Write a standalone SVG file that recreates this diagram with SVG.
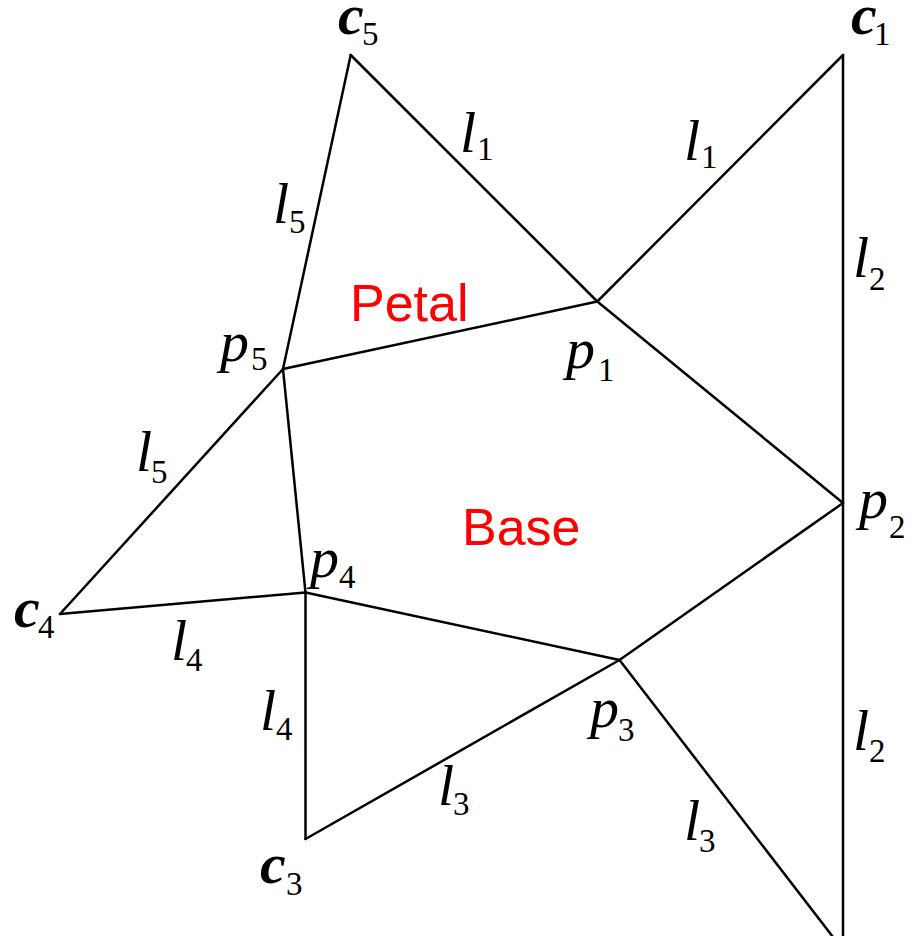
<svg xmlns="http://www.w3.org/2000/svg" width="912" height="936" viewBox="0 0 912 936">
<style>
.e{stroke:#000;stroke-width:2.5;fill:none;stroke-linecap:round}
.m{font-family:"Liberation Serif","Times New Roman",serif;font-style:italic;font-size:58px;fill:#000}
.c{font-weight:bold}
.s{font-style:normal;font-weight:normal;font-size:33px}
.r{font-family:"Liberation Sans",Arial,sans-serif;font-size:52px;fill:#ff0000}
</style>
<rect width="912" height="936" fill="#fff"/>
<g id="connectors">
<line class="e" x1="350.7" y1="55" x2="283" y2="369"/>
<line class="e" x1="350.7" y1="55" x2="597.3" y2="301.5"/>
<line class="e" x1="597.3" y1="301.5" x2="843" y2="503"/>
<line class="e" x1="843" y1="55" x2="597.3" y2="301.5"/>
<line class="e" x1="843" y1="55" x2="843" y2="940"/>
<line class="e" x1="283" y1="369" x2="597.3" y2="301.5"/>
<line class="e" x1="283" y1="369" x2="305.5" y2="592.5"/>
<line class="e" x1="283" y1="369" x2="60" y2="614"/>
<line class="e" x1="60" y1="614" x2="305.5" y2="592.5"/>
<line class="e" x1="305.5" y1="592.5" x2="619.5" y2="660"/>
<line class="e" x1="305.5" y1="592.5" x2="305.5" y2="839"/>
<line class="e" x1="305.5" y1="839" x2="619.5" y2="660"/>
<line class="e" x1="619.5" y1="660" x2="843" y2="503"/>
<line class="e" x1="619.5" y1="660" x2="843" y2="950"/>
<text class="m" x="460" y="152">l<tspan class="s" x="477" y="160">1</tspan></text>
<text class="m" x="684" y="160">l<tspan class="s" x="701" y="168">1</tspan></text>
<text class="m" x="273" y="223">l<tspan class="s" x="289" y="233">5</tspan></text>
<text class="m" x="853" y="277">l<tspan class="s" x="869" y="290">2</tspan></text>
<text class="m" x="136" y="471">l<tspan class="s" x="151" y="483">5</tspan></text>
<text class="m" x="171" y="660">l<tspan class="s" x="186" y="671">4</tspan></text>
<text class="m" x="260" y="730">l<tspan class="s" x="276" y="740">4</tspan></text>
<text class="m" x="438" y="805">l<tspan class="s" x="453" y="815">3</tspan></text>
<text class="m" x="684" y="840">l<tspan class="s" x="699" y="852">3</tspan></text>
<text class="m" x="853" y="750">l<tspan class="s" x="869" y="762">2</tspan></text>
</g>
<g id="c5"><text class="m c" x="338" y="34">c<tspan class="s" x="362" y="45">5</tspan></text></g>
<g id="c1"><text class="m c" x="851" y="34">c<tspan class="s" x="874" y="45">1</tspan></text></g>
<g id="c4"><text class="m c" x="14" y="627">c<tspan class="s" x="38" y="638">4</tspan></text></g>
<g id="c3"><text class="m c" x="260" y="883">c<tspan class="s" x="286" y="895">3</tspan></text></g>
<g id="p1"><text class="m" x="566" y="368">p<tspan class="s" x="598" y="381">1</tspan></text></g>
<g id="p5"><text class="m" x="220" y="361">p<tspan class="s" x="251" y="370">5</tspan></text></g>
<g id="p2"><text class="m" x="859" y="518">p<tspan class="s" x="889" y="538">2</tspan></text></g>
<g id="p4"><text class="m" x="310" y="577">p<tspan class="s" x="339" y="588">4</tspan></text></g>
<g id="p3"><text class="m" x="590" y="727">p<tspan class="s" x="618" y="741">3</tspan></text></g>
<g id="petal"><text class="r" x="350" y="321">Petal</text></g>
<g id="base"><text class="r" x="462" y="545">Base</text></g>
</svg>
